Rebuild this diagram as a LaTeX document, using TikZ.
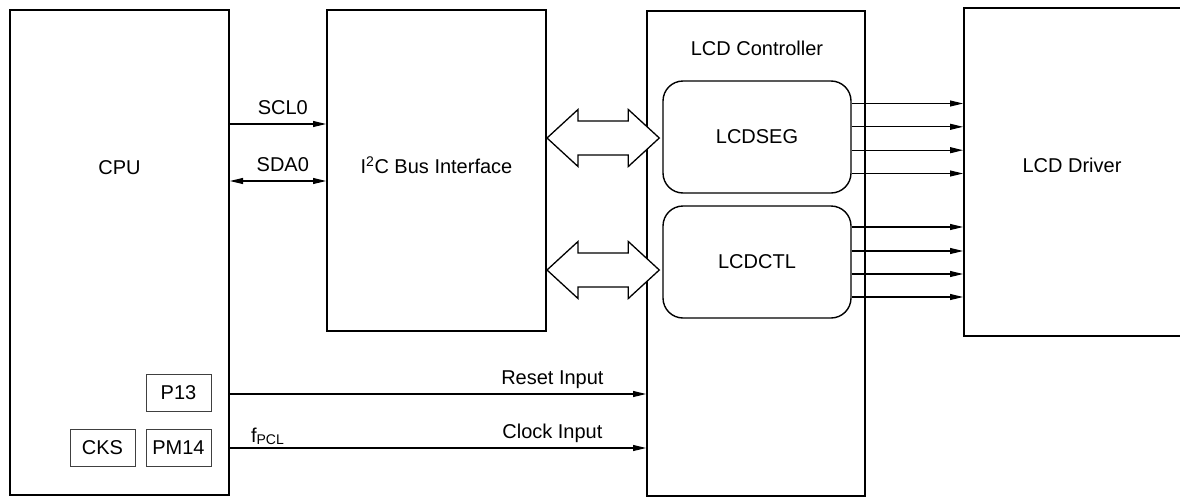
\documentclass[tikz,border=0pt]{standalone}
\usepackage{fontspec}
\setmainfont{Liberation Sans}
\usepackage{tikz}
\usetikzlibrary{arrows.meta,calc,positioning}
\newcommand{\blockfont}{\fontsize{20}{24}\selectfont}
\tikzset{
  block/.style={
    draw=black,
    line width=2pt,
    fill=white,
    inner sep=0pt
  },
  subblock/.style={
    draw=black,
    line width=1.4pt,
    rounded corners=20pt,
    fill=white,
    minimum width=188pt,
    minimum height=112pt,
    font=\blockfont
  },
  regbox/.style={
    draw=black!75,
    line width=1pt,
    minimum width=65pt,
    minimum height=37pt,
    inner sep=0pt,
    font=\blockfont
  },
  blocklabel/.style={font=\blockfont, inner sep=0pt},
  sigline/.style={line width=1.1pt, -{Triangle[length=13pt,width=6pt]}},
  bisigline/.style={line width=1.1pt, {Triangle[length=13pt,width=6pt]}-{Triangle[length=13pt,width=6pt]}},
  siglabel/.style={font=\blockfont, inner sep=0pt, text depth=0pt, above=9pt},
  busarrow/.style={draw=black, line width=1.3pt, fill=white, line join=miter}
}
\newcommand{\busarrow}[2]{%
  \draw[busarrow] let \p1=(#1), \p2=(#2) in
    (\p1) -- (\x1+31pt,\y1+28.5pt) -- (\x1+31pt,\y1+17pt) -- (\x2-31pt,\y1+17pt)
    -- (\x2-31pt,\y1+28.5pt) -- (\x2,\y1) -- (\x2-31pt,\y1-28.5pt) -- (\x2-31pt,\y1-17pt)
    -- (\x1+31pt,\y1-17pt) -- (\x1+31pt,\y1-28.5pt) -- cycle;
}

\begin{document}
\begin{tikzpicture}[x=1pt,y=-1pt]
\path[use as bounding box] (0,0) rectangle (1180,498);
\clip (0,0) rectangle (1180,498);

\node[block, minimum width=219pt, minimum height=485pt] (cpu) at (119.5,252.5) {};
\node[block, minimum width=219pt, minimum height=321pt] (i2c) at (436.5,170.5) {};
\node[block, minimum width=218pt, minimum height=485pt] (lcdc) at (756,253.5) {};
\node[block, minimum width=220pt, minimum height=328pt] (drv) at (1074,172) {};

\node[blocklabel] (cpulbl) at (119.5,168) {CPU};
\node[blocklabel] (i2clbl) at (436.5,165) {I\textsuperscript{2}C Bus Interface};
\node[blocklabel] (lcdclbl) at (757,48) {LCD Controller};
\node[blocklabel] (drvlbl) at (1072,165) {LCD Driver};

\node[subblock] (seg) at (757,137) {LCDSEG};
\node[subblock] (ctl) at (757,262) {LCDCTL};

\node[regbox] (p13) at (178.5,392.5) {P13};
\node[regbox, below=17pt of p13] (pm14) {PM14};
\node[regbox, left=10pt of pm14] (cks) {CKS};

\draw[sigline] (cpu.east |- 0,124) -- node[siglabel, pos=0.55] {SCL0} (i2c.west |- 0,124);
\draw[bisigline] (cpu.east |- 0,181) -- node[siglabel, pos=0.55] {SDA0} (i2c.west |- 0,181);
\draw[sigline] (cpu.east |- 0,394) -- node[siglabel, pos=0.775] {Reset Input} (lcdc.west |- 0,394);
\draw[sigline] (cpu.east |- 0,448) -- node[siglabel, pos=0.775] {Clock Input}
  node[siglabel, pos=0.09, above=5pt] {f{\fontsize{14}{14}\selectfont\raisebox{-2pt}{PCL}}} (lcdc.west |- 0,448);

\busarrow{i2c.east |- 0,138}{[xshift=-3pt]seg.west |- 0,138}
\busarrow{i2c.east |- 0,270}{[xshift=-3pt]ctl.west |- 0,270}

\foreach \y in {103.5,126.8,150.2,173.5}
  \draw[sigline] (seg.east |- 0,\y) -- (drv.west |- 0,\y);
\foreach \y in {227,251,274,297}
  \draw[sigline] (ctl.east |- 0,\y) -- (drv.west |- 0,\y);

\end{tikzpicture}
\end{document}
